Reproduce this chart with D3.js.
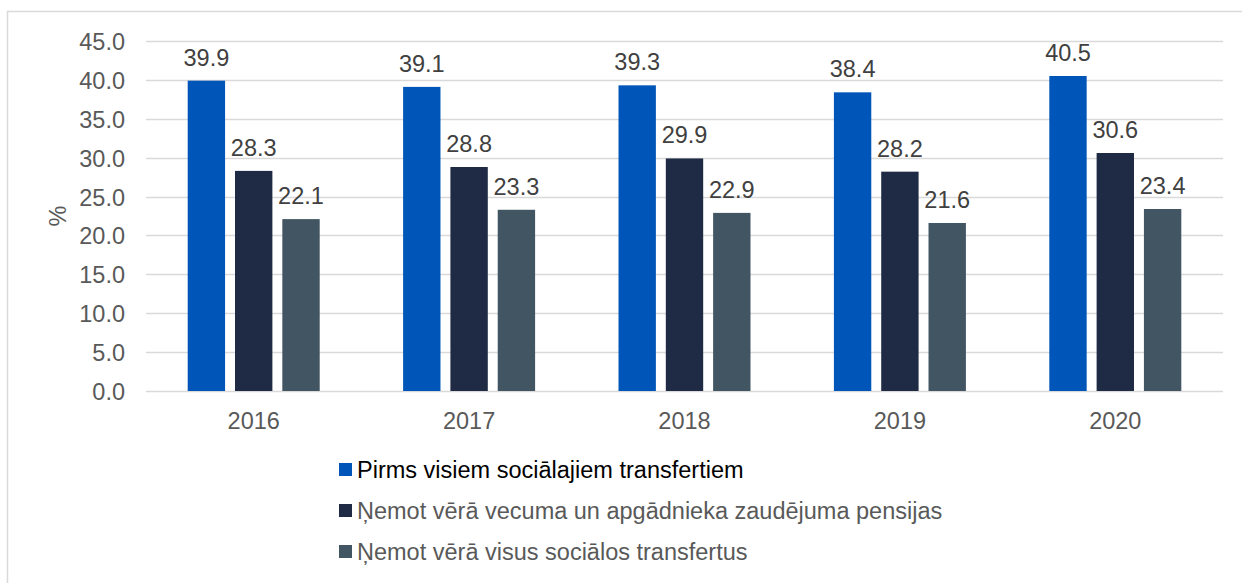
<!DOCTYPE html>
<html>
<head>
<meta charset="utf-8">
<script src="https://cdn.jsdelivr.net/npm/d3@7"></script>
<style>
  body { margin: 0; background: #fff; }
  svg { display: block; font-family: "Liberation Sans", Arial, sans-serif; }
</style>
</head>
<body>
<div id="chart"></div>
<script>
// Chart data
const years = ['2016', '2017', '2018', '2019', '2020'];
const seriesNames = [
  'Pirms visiem sociālajiem transfertiem',
  'Ņemot vērā vecuma un apgādnieka zaudējuma pensijas',
  'Ņemot vērā visus sociālos transfertus',
];
const beforeAll = [39.9, 39.1, 39.3, 38.4, 40.5];
const withPensions = [28.3, 28.8, 29.9, 28.2, 30.6];
const withAll = [22.1, 23.3, 22.9, 21.6, 23.4];
const yTicks = [0, 5, 10, 15, 20, 25, 30, 35, 40, 45];
const colors = ['#0056b8', '#1f2a44', '#415563'];

const seriesValues = [beforeAll, withPensions, withAll];

const width = 1242;
const height = 583;
const margin = { top: 41, right: 19, bottom: 192, left: 146 };
const fontSize = '23.5px';

const svg = d3.select('#chart').append('svg')
  .attr('width', width)
  .attr('height', height);

// Outer frame
svg.append('rect')
  .attr('x', 7.5)
  .attr('y', 11.5)
  .attr('width', 1250)
  .attr('height', 600)
  .attr('fill', 'none')
  .attr('stroke', '#d9d9d9')
  .attr('stroke-width', 1.5);

const x0 = d3.scaleBand()
  .domain(years)
  .range([margin.left, width - margin.right])
  .paddingInner(0)
  .paddingOuter(0);

const x1 = d3.scaleBand()
  .domain(d3.range(seriesNames.length))
  .range([-66, 66])
  .paddingInner(0.21);

const y = d3.scaleLinear()
  .domain([0, 45])
  .range([height - margin.bottom, margin.top]);

// Gridlines
svg.append('g')
  .selectAll('line')
  .data(yTicks)
  .join('line')
  .attr('x1', margin.left)
  .attr('x2', width - margin.right)
  .attr('y1', d => Math.round(y(d)) + 0.5)
  .attr('y2', d => Math.round(y(d)) + 0.5)
  .attr('stroke', '#d9d9d9')
  .attr('stroke-width', 1.5);

// Y axis labels
const yAxis = svg.append('g')
  .attr('transform', `translate(${margin.left - 21},0)`)
  .call(d3.axisLeft(y).tickValues(yTicks).tickFormat(d3.format('.1f')).tickSize(0).tickPadding(0));
yAxis.select('.domain').remove();
yAxis.selectAll('text')
  .attr('fill', '#595959')
  .style('font-size', fontSize)
  .attr('dy', '0.36em');

// X axis labels
const xAxis = svg.append('g')
  .attr('transform', `translate(0,${y(0)})`)
  .call(d3.axisBottom(x0).tickSize(0).tickPadding(0));
xAxis.select('.domain').remove();
xAxis.selectAll('text')
  .attr('fill', '#595959')
  .style('font-size', fontSize)
  .attr('y', 38)
  .attr('dy', 0);

// Y title
svg.append('text')
  .attr('transform', `translate(66,216) rotate(-90)`)
  .attr('text-anchor', 'middle')
  .attr('fill', '#595959')
  .style('font-size', fontSize)
  .text('%');

// Bars
const groups = svg.append('g')
  .selectAll('g')
  .data(years)
  .join('g')
  .attr('transform', d => `translate(${x0(d) + x0.bandwidth() / 2},0)`);

groups.selectAll('rect')
  .data((d, i) => seriesValues.map((vals, s) => ({ s, v: vals[i] })))
  .join('rect')
  .attr('x', d => x1(d.s))
  .attr('width', x1.bandwidth())
  .attr('y', d => y(d.v))
  .attr('height', d => y(0) - y(d.v))
  .attr('fill', d => colors[d.s]);

groups.selectAll('text')
  .data((d, i) => seriesValues.map((vals, s) => ({ s, v: vals[i] })))
  .join('text')
  .attr('x', d => x1(d.s) + x1.bandwidth() / 2)
  .attr('y', d => y(d.v) - 15)
  .attr('text-anchor', 'middle')
  .attr('fill', '#404040')
  .style('font-size', fontSize)
  .text(d => d3.format('.1f')(d.v));

// Legend
const legend = svg.append('g')
  .selectAll('g')
  .data(seriesNames)
  .join('g')
  .attr('transform', (d, i) => `translate(339,${478 + i * 41})`);

legend.append('rect')
  .attr('x', 0)
  .attr('y', -15)
  .attr('width', 13)
  .attr('height', 13)
  .attr('fill', (d, i) => colors[i]);

legend.append('text')
  .attr('x', 18)
  .attr('y', 0)
  .attr('fill', (d, i) => i === 0 ? '#000000' : '#595959')
  .style('font-size', fontSize)
  .text(d => d);
</script>
</body>
</html>
